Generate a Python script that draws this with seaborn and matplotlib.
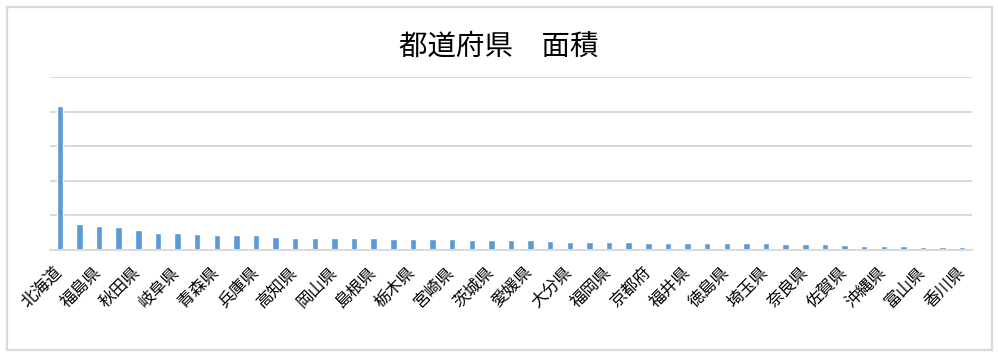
import matplotlib
matplotlib.use("Agg")
import matplotlib.pyplot as plt
from matplotlib.patches import Rectangle
import pandas as pd
import seaborn as sns

prefs = ["北海道", "岩手県", "福島県", "長野県", "秋田県", "新潟県", "岐阜県", "山形県",
         "青森県", "鹿児島県", "兵庫県", "広島県", "高知県", "静岡県", "岡山県", "熊本県",
         "島根県", "宮城県", "栃木県", "群馬県", "宮崎県", "山口県", "茨城県", "三重県",
         "愛媛県", "愛知県", "大分県", "千葉県", "福岡県", "和歌山県", "京都府", "山梨県",
         "福井県", "石川県", "徳島県", "長崎県", "埼玉県", "滋賀県", "奈良県", "鳥取県",
         "佐賀県", "神奈川県", "沖縄県", "東京都", "富山県", "大阪府", "香川県"]
areas = [83400, 15300, 13600, 13000, 11300, 10100, 9600, 9000,
         8900, 8400, 8400, 7300, 7200, 7200, 7100, 6700,
         6700, 6600, 6400, 6100, 6100, 6000, 6000, 5500,
         5500, 5000, 4900, 4900, 4900, 4800, 4300, 4300,
         4200, 4200, 4100, 4100, 3800, 3700, 3700, 3500,
         2600, 2400, 2200, 2100, 2000, 1900, 1900]

sns.set_style("white")
plt.rcParams['font.family'] = ['Noto Sans CJK JP', 'DejaVu Sans']

df = pd.DataFrame({"都道府県": prefs, "面積": areas})

fig = plt.figure(figsize=(9.98, 3.56), dpi=100)
ax = fig.add_axes([0.0501, 0.2978, 0.9239, 0.4859])

sns.barplot(data=df, x="都道府県", y="面積", color="#5B9BD5",
            width=0.33, saturation=1, ax=ax)

ax.set_ylim(0, 100000)
ax.set_yticks(range(0, 100001, 20000))
ax.set_yticklabels([])
ax.grid(axis="y", color="#D9D9D9", linewidth=1.4)
ax.set_axisbelow(True)
ax.set_xlim(-0.5, len(prefs) - 0.5)
for s in ["top", "right", "left"]:
    ax.spines[s].set_visible(False)
ax.spines["bottom"].set_color("#D9D9D9")
ax.spines["bottom"].set_linewidth(1.4)
ax.tick_params(length=0)

ticks = list(range(0, len(prefs), 2))
ax.set_xticks(ticks)
ax.set_xticklabels([prefs[i] for i in ticks], rotation=45, ha="right",
                   va="center", rotation_mode="anchor", fontsize=12,
                   color="black")
ax.tick_params(axis="x", pad=14)
ax.set_xlabel("")
ax.set_ylabel("")

fig.text(0.5, 0.87, "都道府県　面積", ha="center", va="center", fontsize=20.5,
         color="black")

fig.patches.append(Rectangle((7 / 998, 6 / 356), 985 / 998, 343 / 356,
                             transform=fig.transFigure, fill=False,
                             edgecolor="#D9D9D9", linewidth=1.6))

fig.savefig("out.png", dpi=100)
